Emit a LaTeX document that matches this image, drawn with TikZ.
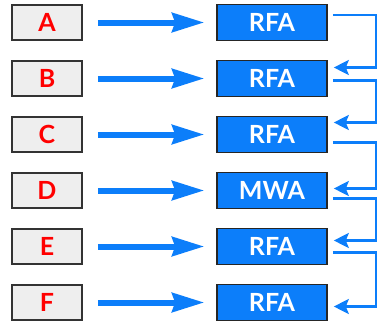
\documentclass[tikz,border=0pt]{standalone}
\usepackage{fontspec}
\setmainfont{Lato}
\usetikzlibrary{positioning}
\usetikzlibrary{arrows.meta}
\definecolor{ablblue}{RGB}{12,126,250}
\definecolor{srcgray}{RGB}{238,238,238}
\tikzset{src/.style={draw=black!80, line width=1.6pt, fill=srcgray, minimum width=70pt, minimum height=35pt, inner sep=0pt, text=red, font=\fontsize{25}{25}\selectfont\bfseries}}
\tikzset{abl/.style={draw=black!85, line width=1.6pt, fill=ablblue, minimum width=110pt, minimum height=36pt, inner sep=0pt, text=white, font=\fontsize{25}{25}\selectfont\bfseries}}
\tikzset{feed/.style={ablblue, line width=6pt, -{Stealth[length=32pt,width=19pt,inset=3pt]}, shorten <=15pt, shorten >=12pt}}
\tikzset{hop/.style={ablblue, line width=2.5pt, -{Stealth[length=15pt,width=15pt,inset=3pt]}}}

\begin{document}
\begin{tikzpicture}
\useasboundingbox (0,0) rectangle (380pt,-322pt);
\begin{scope}[on grid]
\node[src] (A) at (47pt,-22.5pt) {A};
\node[src] (B) [below = 56pt of A] {B};
\node[src] (C) [below = 56pt of B] {C};
\node[src] (D) [below = 56pt of C] {D};
\node[src] (E) [below = 56pt of D] {E};
\node[src] (F) [below = 56pt of E] {F};

\node[abl] (ra) at (272pt,-22.5pt) {RFA};
\node[abl] (rb) [below = 56pt of ra] {RFA};
\node[abl] (rc) [below = 56pt of rb] {RFA};
\node[abl] (rd) [below = 56pt of rc] {MWA};
\node[abl] (re) [below = 56pt of rd] {RFA};
\node[abl] (rf) [below = 56pt of re] {RFA};

\draw[feed] (A) -- (ra);
\draw[feed] (B) -- (rb);
\draw[feed] (C) -- (rc);
\draw[feed] (D) -- (rd);
\draw[feed] (E) -- (re);
\draw[feed] (F) -- (rf);

% chain down the right side
\draw[hop] ([xshift=5pt,yshift=7.5pt]ra.east) -- ++(43pt,0) |- ([xshift=6pt,yshift=11pt]rb.east);
\draw[hop] ([xshift=5pt,yshift=-2pt]rb.east) -- ++(43pt,0) |- ([xshift=6pt,yshift=12pt]rc.east);
\draw[hop] ([xshift=5pt,yshift=-8pt]rc.east) -- ++(43pt,0) |- ([xshift=6pt,yshift=2pt]rd.east);
\draw[hop] ([xshift=5pt,yshift=-8pt]rd.east) -- ++(43pt,0) |- ([xshift=6pt,yshift=6pt]re.east);
\draw[hop] ([xshift=5pt,yshift=-6pt]re.east) -- ++(43pt,0) |- ([xshift=6pt,yshift=-4pt]rf.east);
\end{scope}
\end{tikzpicture}
\end{document}
